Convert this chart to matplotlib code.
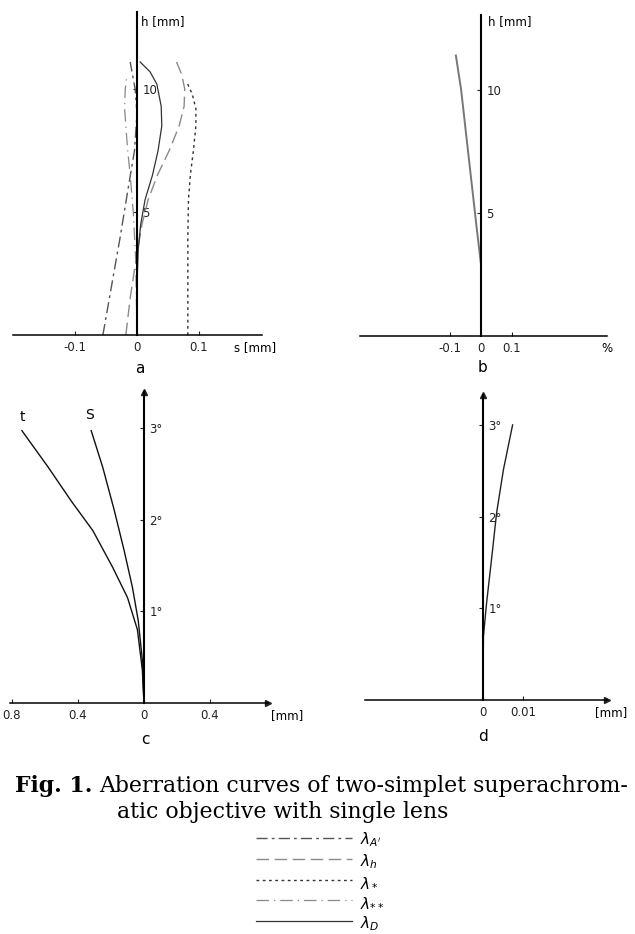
import matplotlib
matplotlib.use("Agg")
import matplotlib.pyplot as plt

W, H = 635, 934

# a: longitudinal aberration s [mm] versus h [mm], one curve per wavelength
a_h_A = [0, 2, 4, 6, 7.5, 9, 10, 11.1]
a_s_A = [-0.055, -0.041, -0.027, -0.014, -0.004, 0.0, -0.003, -0.011]
a_h_h = [0, 1.5, 3, 4.5, 5.5, 6.5, 7.5, 8.5, 9.3, 10, 10.6, 11.2]
a_s_h = [-0.018, -0.011, -0.002, 0.008, 0.018, 0.033, 0.052, 0.068, 0.076, 0.077, 0.072, 0.062]
a_h_1 = [0, 2, 4, 5.5, 6.5, 7.5, 8.5, 9.2, 9.8, 10.3]
a_s_1 = [0.082, 0.082, 0.082, 0.083, 0.086, 0.091, 0.095, 0.095, 0.089, 0.080]
a_h_2 = [0, 3, 5, 6.5, 7.5, 8.5, 9.2, 10, 10.6]
a_s_2 = [0.0, -0.002, -0.006, -0.011, -0.015, -0.018, -0.020, -0.019, -0.016]
a_h_D = [0, 2, 3.5, 4.5, 5.5, 6.5, 7.5, 8.5, 9.3, 10.2, 10.7, 11.1]
a_s_D = [0.0, 0.0, 0.002, 0.006, 0.013, 0.025, 0.034, 0.040, 0.039, 0.032, 0.021, 0.005]

# b: sine condition deviation [%] versus h [mm]
b_h = [2.9, 4.4, 6.3, 8.2, 10.0, 11.4]
b_s = [0.0, -0.014, -0.031, -0.048, -0.064, -0.081]

# c: astigmatism, tangential (t) and sagittal (s) field curves, field angle in degrees
c_u_t = [0, 0.36, 0.8, 1.15, 1.48, 1.88, 2.2, 2.57, 2.97]
c_t = [0.0, -0.01, -0.04, -0.10, -0.19, -0.31, -0.44, -0.58, -0.74]
c_u_s = [0, 0.47, 0.9, 1.26, 1.66, 2.1, 2.57, 2.97]
c_s = [0.0, -0.01, -0.035, -0.07, -0.12, -0.18, -0.25, -0.32]

# d: distortion [mm] versus field angle
d_u = [0, 0.69, 1.06, 1.56, 2.04, 2.51, 3.0]
d_s = [0.0, 0.0001, 0.0009, 0.0022, 0.0034, 0.0051, 0.0074]

legend_labels = [r"$\lambda_{A'}$", r"$\lambda_h$", r"$\lambda_*$", r"$\lambda_{**}$", r"$\lambda_D$"]

TICK_FONT = dict(family="DejaVu Sans", size=8.5)

fig = plt.figure(figsize=(W / 100, H / 100), dpi=100)


def panel(left, right, top, bottom):
    """axes placed by its pixel box in the figure"""
    ax = fig.add_axes([left / W, 1 - bottom / H, (right - left) / W, (bottom - top) / H])
    ax.patch.set_alpha(0)
    ax.spines["top"].set_visible(False)
    ax.spines["left"].set_visible(False)
    ax.spines["right"].set_position(("data", 0))
    ax.spines["bottom"].set_position(("data", 0))
    ax.spines["right"].set_linewidth(1.5)
    ax.spines["bottom"].set_linewidth(1.1)
    ax.yaxis.set_ticks_position("right")
    ax.xaxis.set_ticks_position("bottom")
    ax.tick_params(direction="in", length=3, width=0.8, pad=4, colors="#222")
    return ax


def tick_labels(ax, xt, xl, yt, yl):
    ax.set_xticks(xt)
    ax.set_xticklabels(xl, **TICK_FONT)
    ax.set_yticks(yt)
    ax.set_yticklabels(yl, **TICK_FONT)


def arrows(ax):
    ax.plot(1, 0, ">", color="#222", ms=5, transform=ax.get_yaxis_transform(), clip_on=False)
    ax.plot(0, 1, "^", color="#222", ms=5, transform=ax.get_xaxis_transform(), clip_on=False)


def panel_letter(ax, letter, dx, dy):
    ax.annotate(letter, xy=(0, 0), xycoords="data", xytext=(dx, dy), textcoords="offset points",
                ha="center", va="center", family="DejaVu Sans", size=11)


# ---- a ----
ax_a = panel(13, 262, 12, 335)
ax_a.set_xlim((13 - 137) / 620, (262 - 137) / 620)
ax_a.set_ylim(0, (335 - 12) / 24.6)
la = ax_a.plot(a_s_A, a_h_A, color="#555", lw=1.0, dashes=(8, 3, 2, 3))[0]
lh = ax_a.plot(a_s_h, a_h_h, color="#8a8a8a", lw=1.0, dashes=(9, 4))[0]
l1 = ax_a.plot(a_s_1, a_h_1, color="#333", lw=1.0, dashes=(2, 2.5))[0]
l2 = ax_a.plot(a_s_2, a_h_2, color="#888", lw=0.9, dashes=(10, 4, 1, 4))[0]
lD = ax_a.plot(a_s_D, a_h_D, color="#333", lw=0.9)[0]
tick_labels(ax_a, [-0.1, 0, 0.1], ["-0.1", "0", "0.1"], [5, 10], ["5", "10"])
ax_a.annotate("s [mm]", xy=(0.19, 0), xycoords="data", xytext=(0, -9),
              textcoords="offset points", ha="center", va="center", **TICK_FONT)
ax_a.annotate("h [mm]", xy=(0, 1), xycoords=("data", "axes fraction"), xytext=(3, -7),
              textcoords="offset points", ha="left", va="center", **TICK_FONT)
panel_letter(ax_a, "a", 2, -24)

# ---- b ----
ax_b = panel(360, 607, 15, 336)
ax_b.set_xlim((360 - 481) / 310, (607 - 481) / 310)
ax_b.set_ylim(0, (336 - 15) / 24.6)
ax_b.plot(b_s, b_h, color="#777", lw=1.4)
tick_labels(ax_b, [-0.1, 0, 0.1], ["-0.1", "0", "0.1"], [5, 10], ["5", "10"])
ax_b.annotate("%", xy=(1, 0), xycoords=("axes fraction", "data"), xytext=(0, -9),
              textcoords="offset points", ha="center", va="center", **TICK_FONT)
ax_b.annotate("h [mm]", xy=(0, 1), xycoords=("data", "axes fraction"), xytext=(5, -5),
              textcoords="offset points", ha="left", va="center", **TICK_FONT)
panel_letter(ax_b, "b", 1, -23)

# ---- c ----
ax_c = panel(10, 268, 392, 703)
ax_c.set_xlim((10 - 144) / 165, (268 - 144) / 165)
ax_c.set_ylim(0, (703 - 392) / 91.7)
ax_c.plot(c_t, c_u_t, color="#111", lw=1.0)
ax_c.plot(c_s, c_u_s, color="#111", lw=1.0)
tick_labels(ax_c, [-0.8, -0.4, 0, 0.4], ["0.8", "0.4", "0", "0.4"],
            [1, 2, 3], ["1°", "2°", "3°"])
arrows(ax_c)
ax_c.annotate("[mm]", xy=(1, 0), xycoords=("axes fraction", "data"), xytext=(14, -9),
              textcoords="offset points", ha="center", va="center", **TICK_FONT)
ax_c.annotate("t", xy=(c_t[-1], c_u_t[-1]), xytext=(0, 10), textcoords="offset points",
              ha="center", va="center", family="DejaVu Sans", size=10)
ax_c.annotate("S", xy=(c_s[-1], c_u_s[-1]), xytext=(-1, 11), textcoords="offset points",
              ha="center", va="center", family="DejaVu Sans", size=10)
panel_letter(ax_c, "c", 1, -26)

# ---- d ----
ax_d = panel(365, 607, 395, 700)
ax_d.set_xlim((365 - 483) / 4000, (607 - 483) / 4000)
ax_d.set_ylim(0, (700 - 395) / 91.7)
ax_d.plot(d_s, d_u, color="#222", lw=1.0)
tick_labels(ax_d, [0, 0.01], ["0", "0.01"], [1, 2, 3], ["1°", "2°", "3°"])
arrows(ax_d)
ax_d.annotate("[mm]", xy=(1, 0), xycoords=("axes fraction", "data"), xytext=(3, -9),
              textcoords="offset points", ha="center", va="center", **TICK_FONT)
panel_letter(ax_d, "d", 0, -26)

# ---- caption ----
cap = dict(family="DejaVu Serif", size=15.8, va="center")
t1 = fig.text(15 / W, 1 - 786 / H, "Fig. 1.", weight="bold", **cap)
r = fig.canvas.get_renderer()
x_end = t1.get_window_extent(r).x1
fig.text((x_end + 7) / W, 1 - 786 / H, "Aberration curves of two-simplet superachrom-", **cap)
fig.text(117 / W, 1 - 812 / H, "atic objective with single lens", **cap)

# rows get a fixed height from handleheight so the mathtext labels stay evenly spaced
fig.legend([la, lh, l1, l2, lD], legend_labels, loc="upper left",
           bbox_to_anchor=(248 / W, 1 - 823 / H), frameon=False, fontsize=11,
           handlelength=6.3, handleheight=1.45, handletextpad=0.5, labelspacing=0.15,
           borderpad=0)

fig.savefig("out.png", dpi=100, facecolor="white")
